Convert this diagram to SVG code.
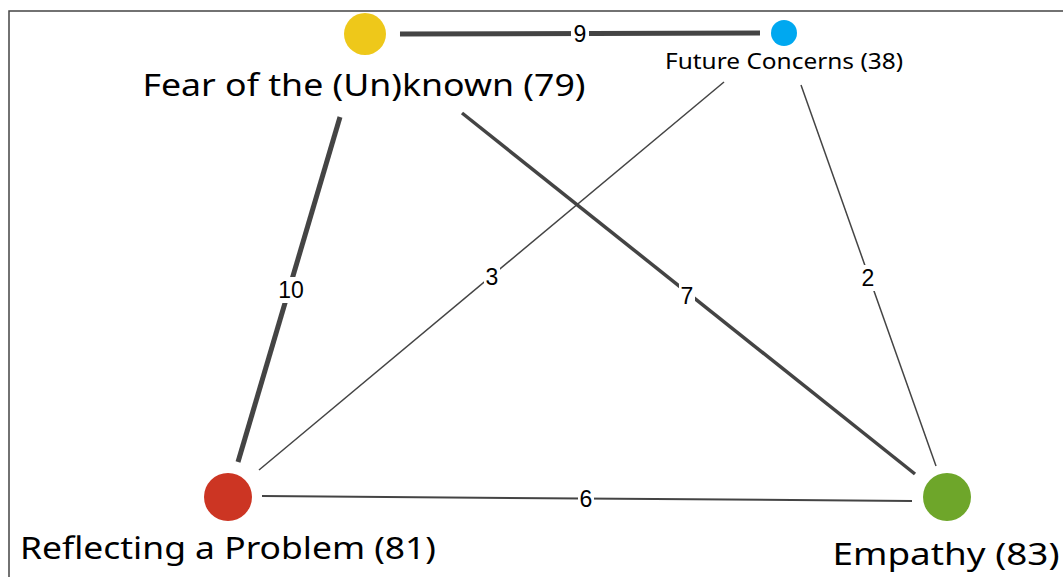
<svg xmlns="http://www.w3.org/2000/svg" width="1063" height="577" viewBox="0 0 1063 577">
<style>
.edge{stroke:#444;fill:none;stroke-linecap:butt}
.elab{font-family:"Liberation Sans",Arial,sans-serif;font-size:23px;fill:#000;text-anchor:middle;dominant-baseline:central}
.bg{fill:#fff}
.nlab{font-family:"Noto Sans","Open Sans",sans-serif;fill:#000;text-anchor:middle}
</style>
<rect x="0" y="0" width="1063" height="577" fill="#fff"/>
<rect x="9" y="11" width="1070" height="580" fill="none" stroke="#444" stroke-width="1.5"/>
<g id="connectors">
<line class="edge" x1="400" y1="34" x2="760" y2="33" stroke-width="5"/>
<rect class="bg" x="571" y="21" width="18" height="26"/>
<text class="elab" x="580" y="34">9</text>
<line class="edge" x1="340" y1="117" x2="238" y2="462" stroke-width="5"/>
<rect class="bg" x="275" y="277" width="32" height="26"/>
<text class="elab" x="291" y="290">10</text>
<line class="edge" x1="462" y1="113" x2="915" y2="474" stroke-width="3.5"/>
<rect class="bg" x="679" y="283" width="16" height="26"/>
<text class="elab" x="687" y="296">7</text>
<line class="edge" x1="724" y1="82" x2="259" y2="470" stroke-width="1.5"/>
<rect class="bg" x="484" y="264" width="16" height="26"/>
<text class="elab" x="492" y="277">3</text>
<line class="edge" x1="801" y1="85" x2="936" y2="466" stroke-width="1.5"/>
<rect class="bg" x="860" y="265" width="16" height="26"/>
<text class="elab" x="868" y="278">2</text>
<line class="edge" x1="262" y1="496" x2="912" y2="501" stroke-width="2"/>
<rect class="bg" x="578" y="486" width="16" height="26"/>
<text class="elab" x="586" y="499">6</text>
</g>
<g id="node-fear">
<circle cx="365" cy="34" r="21" fill="#EEC81A"/>
<text class="nlab" x="364" y="96" font-size="31" textLength="443" lengthAdjust="spacingAndGlyphs">Fear of the (Un)known (79)</text>
</g>
<g id="node-future">
<circle cx="784" cy="33" r="13" fill="#00A8F0"/>
<text class="nlab" x="784" y="69" font-size="21" textLength="238" lengthAdjust="spacingAndGlyphs">Future Concerns (38)</text>
</g>
<g id="node-reflecting">
<circle cx="228" cy="497" r="24" fill="#CC3523"/>
<text class="nlab" x="228" y="559" font-size="31" textLength="416" lengthAdjust="spacingAndGlyphs">Reflecting a Problem (81)</text>
</g>
<g id="node-empathy">
<circle cx="947" cy="497" r="24" fill="#6EA62A"/>
<text class="nlab" x="946" y="565" font-size="31" textLength="227" lengthAdjust="spacingAndGlyphs">Empathy (83)</text>
</g>
</svg>
